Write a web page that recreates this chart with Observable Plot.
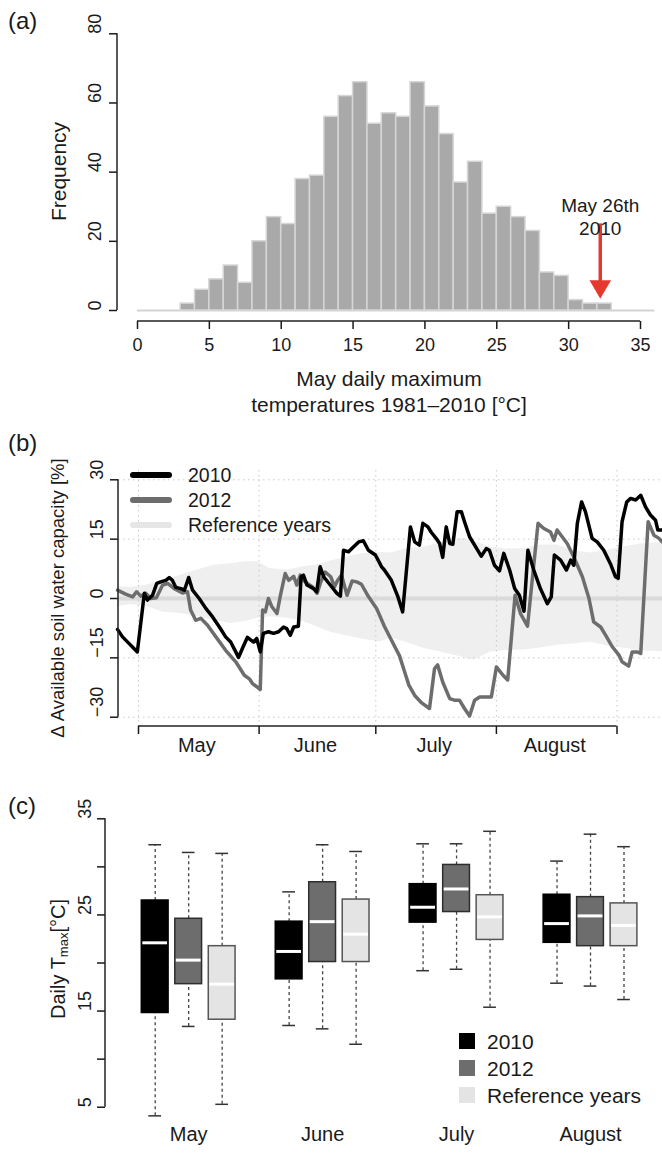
<!DOCTYPE html>
<html><head><meta charset="utf-8">
<script src="https://cdn.jsdelivr.net/npm/d3@7"></script>
<script src="https://cdn.jsdelivr.net/npm/@observablehq/plot@0.6"></script>
<style>
html,body{margin:0;padding:0;background:#fff;overflow:hidden;}
#chart{width:662px;height:1153px;position:relative;}
#chart svg{display:block;}
</style></head><body><div id="chart"></div>
<script>
// ---------------- Panel (a): histogram of May daily Tmax ----------------
const histBinStart = [0,1,2,3,4,5,6,7,8,9,10,11,12,13,14,15,16,17,18,19,20,21,22,23,24,25,26,27,28,29,30,31,32,33,34,35];
const histCounts   = [0,0,0,2,6,9,13,8,20,27,25,38,39,56,62,66,54,57,56,66,59,51,37,43,28,30,27,23,11,10,3,2,2,0,0,0];
const histXTicks = [0,5,10,15,20,25,30,35];
const histYTicks = [0,20,40,60,80];
const arrowX = [32.2];
const arrowTop = [21];
const arrowTip = [3.5];
const noteY = [27.2];
const noteText = ["May 26th\n2010"];

// ---------------- Panel (b): soil water anomaly (days since May 1) ----------------
const day2010 = [-5.4,-4.1,-2.4,-1.3,-0.3,1.5,2.3,3.6,4.7,5.7,7.0,7.9,8.7,9.6,10.9,11.8,12.9,13.9,15.6,17.3,19.0,20.8,22.4,23.7,25.0,25.7,26.9,28.0,29.6,30.4,31.3,32.1,33.4,34.7,36.0,37.3,38.1,39.0,39.9,41.1,41.8,42.4,43.3,45.0,45.8,46.7,47.6,49.7,51.0,51.9,52.7,54.0,55.3,56.6,57.8,59.1,60.9,62.5,63.2,65.0,66.7,67.9,69.9,71.0,72.2,73.1,74.4,75.2,76.5,77.4,78.2,79.1,80.0,80.8,81.9,83.0,83.8,85.1,86.4,88.1,89.4,90.2,91.5,92.8,93.9,95.4,96.7,97.9,99.1,100.1,101.6,103.3,105.1,106.1,106.9,108.5,110.0,111.1,111.9,112.8,113.9,114.9,116.6,117.9,119.6,121.3,122.6,123.3,124.3,125.5,126.5,127.8,129.1,130.3,131.6,132.9,133.5,134.6,135.5];
const val2010 = [-7.8,-9.7,-11.4,-12.5,-13.5,1.3,-0.4,0.8,3.8,4.2,4.6,5.3,4.6,2.8,2.5,2.1,5.3,2.1,0,-2.5,-4.6,-7.2,-9.7,-11,-13.5,-14.9,-12.2,-9.8,-11,-10.1,-13.5,-8.8,-8.4,-8.8,-8.4,-7.2,-7.6,-9.3,-7.2,-7.0,5.5,5.9,3.4,2.5,1.7,8,5.5,2.9,1.3,0.6,12.2,11.8,13.1,14.3,14.6,12.2,11,8,7.2,4.6,0.4,-3.4,18.1,14.3,13.5,19,18.1,16.8,15.2,13.9,10.4,18.1,13.9,13.7,21.9,21.9,19.4,15.6,13.5,10.7,12.6,12.2,8.4,7,11.4,7.2,2.5,0.8,-3.2,12.2,7.2,2.5,-1.3,0.4,11,9.7,7.2,9.7,8.4,19,24.4,21.9,15.2,14.3,12.2,8.8,5.5,5.1,19.4,24.4,25.3,24.9,26.1,23.2,21.1,19.8,17.3,17.3,18];
const day2012 = [-5.4,-3.3,-1.5,-0.5,0.6,1.9,3.2,4.6,6.2,7.5,9.2,11.3,12.6,13.4,14.7,16.0,17.7,19.9,22.4,25.0,27.2,28.5,29.3,30.4,31.3,31.9,32.6,33.4,34.3,35.6,36.4,37.7,38.6,39.9,40.7,41.6,42.4,43.4,44.7,45.9,46.8,48.0,49.4,50.4,51.2,52.2,53.6,54.9,56.1,57.3,59.1,61.2,63.2,65.0,67.1,68.4,69.5,71.0,72.7,74.8,76.1,76.9,78.2,80.0,81.2,82.5,83.8,85.1,86.4,87.7,89.4,90.7,92.0,93.7,94.9,96.8,98.2,100.0,102.7,104.2,105.9,106.8,107.6,108.9,110.2,111.9,114.1,115.8,117.0,118.8,120.1,121.8,123.5,124.3,126.0,126.9,128.2,129.1,131.0,132.5,133.8,134.6,135.5];
const val2012 = [2.1,1.1,0.4,1.7,0.6,1.3,0,0.2,3.4,3.8,2.5,1.4,1.7,-2.9,-5.5,-5,-6.7,-9.7,-13.1,-16,-19.4,-20.3,-21.5,-22.3,-23,-2.9,-3.4,0,-2.1,-3.8,0.4,6.3,4.6,5.6,3.4,5.9,4.6,3.8,3,1.3,4,6.7,5.5,3,4.6,5.9,0.8,4.4,4.2,3.6,0.5,-2.5,-7,-10.5,-14.5,-18.5,-21.9,-24.5,-26.3,-27.8,-17.7,-16.8,-21.1,-25.3,-25.7,-25.7,-27.8,-29.7,-25.7,-24.9,-24.9,-24.9,-17.3,-19.4,-20.6,0.8,-3.8,-7,19,17.7,16.8,14.7,17.3,15.6,13.9,10.5,5.5,0,-5.9,-7.2,-9.3,-12.2,-14.3,-16,-17.1,-13.5,-13.5,-13.9,19.4,16,15.2,14.3,14];
const refDay  = [-5.4,-2.1,2.3,6.4,10.8,15.2,19.3,23.7,27.5,30.6,33.9,38.3,42.4,46.0,49.4,53.7,57.8,62.2,64.8,68.6,73.3,77.6,82.8,86.1,90.5,94.3,99.0,103.3,107.7,111.8,116.2,120.6,124.7,129.1,135.5];
const refLow  = [-2.0,-1.5,-2.1,-3.5,-3.8,-4.6,-5.5,-6.3,-5.8,-5.0,-4.6,-5.0,-5.8,-7.2,-8.5,-9.5,-10.3,-11.0,-10.0,-11.0,-12.6,-13.5,-14.7,-15.6,-13.5,-13.2,-13.0,-12.5,-11.8,-11.5,-11.0,-12.0,-12.6,-13.2,-13.5];
const refHigh = [3.0,2.8,3.4,4.6,5.9,7.2,8.4,8.8,9.3,9.3,7.5,7.2,8.0,8.5,9.5,10.5,11.4,11.6,11.5,12.5,13.0,14.0,15.2,14.5,13.0,12.5,12.6,13.5,13.5,12.0,11.5,12.2,13.0,13.8,14.3];
const monthStart = [0,31,61,92,123];
const monthName = ["May","June","July","August"];
const monthMid = [15,45.5,76,107];
const swTicks = [-30,-15,0,15,30];
const seriesNames = ["2010","2012","Reference years"];

// ---------------- Panel (c): boxplots of daily Tmax ----------------
const boxMonth  = ["May","May","May","June","June","June","July","July","July","August","August","August"];
const boxSeries = ["2010","2012","Reference years","2010","2012","Reference years","2010","2012","Reference years","2010","2012","Reference years"];
const boxMin    = [4.1,13.4,5.3, 13.5,13.15,11.55, 19.2,19.35,15.4, 17.9,17.6,16.2];
const boxQ1     = [14.8,17.8,14.1, 18.3,20.1,20.1, 24.2,25.3,22.4, 22.1,21.75,21.75];
const boxMedian = [22.1,20.3,17.8, 21.2,24.3,23.0, 25.8,27.7,24.8, 24.1,24.9,23.9];
const boxQ3     = [26.5,24.6,21.75, 24.3,28.4,26.6, 28.2,30.2,27.05, 27.1,26.85,26.2];
const boxMax    = [32.3,31.5,31.4, 27.4,32.3,31.6, 32.4,32.4,33.7, 30.6,33.4,32.1];
const tTicks = [5,10,15,20,25,30,35];
const tLabels = [5,15,25,35];

// ---------------- styling ----------------
const fontFam = '"Liberation Sans", Arial, Helvetica, sans-serif';
const ink = "#1a1a1a";
const red = "#e5392d";
const colSeries = {"2010": "#000000", "2012": "#6d6d6d", "Reference years": "#e4e4e4"};
const boxStroke = {"2010": "#000000", "2012": "#2e2e2e", "Reference years": "#555555"};
const fmt = d3.format("d");
const chart = document.getElementById("chart");

function svgText(svg, x, y, str, size, anchor = "middle", rotate = 0) {
  return d3.select(svg).append("text")
    .attr("transform", `translate(${x},${y}) rotate(${rotate})`)
    .attr("text-anchor", anchor).attr("dominant-baseline", "central")
    .attr("font-size", size).attr("fill", ink).text(str);
}
function svgLine(svg, x1, y1, x2, y2, stroke = "#222", w = 1.5) {
  d3.select(svg).append("line").attr("x1", x1).attr("y1", y1).attr("x2", x2).attr("y2", y2)
    .attr("stroke", stroke).attr("stroke-width", w);
}
const style = {fontFamily: fontFam, fontSize: "18px", color: ink, background: "#fff"};

// ===== Panel (a) =====
const hist = histBinStart.map((b, i) => ({x1: b, x2: b + 1, n: histCounts[i]})).filter(d => d.n > 0);
const note = arrowX.map((x, i) => ({x, top: arrowTop[i], tip: arrowTip[i], ly: noteY[i], label: noteText[i]}));
const hA = 430, mbA = 109;
const plotA = Plot.plot({
  width: 662, height: hA, marginLeft: 117, marginRight: 0, marginTop: 20, marginBottom: mbA,
  style,
  x: {domain: [0, 35], range: [137, 640]},
  y: {domain: [0, 80], range: [310, 33.3]},
  marks: [
    Plot.ruleY([0], {x1: histBinStart[0], x2: histBinStart[histBinStart.length - 1] + 1, stroke: "#d3d3d3", strokeWidth: 2}),
    Plot.rect(hist, {x1: "x1", x2: "x2", y1: 0, y2: "n", fill: "#a9a9a9", stroke: "#d6d6d6", strokeWidth: 1.5}),
    Plot.ruleX(note, {x: "x", y1: "top", y2: "tip", stroke: red, strokeWidth: 3.5, dy: -14}),
    Plot.dot(note, {x: "x", y: "tip", symbol: "triangle", rotate: 180, r: 8, fill: red, stroke: "none", dy: -12}),
    Plot.text(note, {x: "x", y: "ly", text: "label", fontSize: 19, lineHeight: 1.17}),
    Plot.axisX(histXTicks, {tickSize: 8, tickPadding: 9, fontSize: 18, strokeWidth: 1.5, label: null}),
    Plot.axisY(histYTicks, {tickSize: 8, tickFormat: () => "", strokeWidth: 1.5, label: null}),
    Plot.text(histYTicks, {y: d => d, text: d => fmt(d), frameAnchor: "left", dx: -22, rotate: -90, fontSize: 18})
  ]
});
{
  const xs = plotA.scale("x"), ys = plotA.scale("y");
  const axY = hA - mbA;
  svgLine(plotA, xs.apply(histXTicks[0]), axY, xs.apply(histXTicks[histXTicks.length - 1]), axY);
  svgLine(plotA, 117, ys.apply(histYTicks[0]), 117, ys.apply(histYTicks[histYTicks.length - 1]));
  svgText(plotA, 8, 20, "(a)", 24, "start");
  svgText(plotA, 58, 171.5, "Frequency", 21, "middle", -90);
  svgText(plotA, 389, 378, "May daily maximum", 21);
  svgText(plotA, 389, 404, "temperatures 1981\u20132010 [\u00B0C]", 21);
}
chart.appendChild(plotA);

// ===== Panel (b) =====
const s2010 = day2010.map((d, i) => ({day: d, v: val2010[i]}));
const s2012 = day2012.map((d, i) => ({day: d, v: val2012[i]}));
const band = refDay.map((d, i) => ({day: d, lo: refLow[i], hi: refHigh[i]}));
const hB = 340, mbB = 44;
const grid = {stroke: "#c9c9c9", strokeDasharray: "1.5,3.5", strokeWidth: 1};
const plotB = Plot.plot({
  width: 662, height: hB, marginLeft: 118, marginRight: 0, marginTop: 40, marginBottom: mbB,
  style,
  x: {domain: [0, 123], range: [138, 616.5]},
  y: {domain: [-30, 30], range: [286.7, 49.3]},
  marks: [
    Plot.areaY(band, {x: "day", y1: "lo", y2: "hi", fill: "#efefef"}),
    Plot.ruleY(swTicks, grid),
    Plot.ruleX(monthStart, grid),
    Plot.ruleY([0], {stroke: "#dadada", strokeWidth: 4}),
    Plot.line(s2012, {x: "day", y: "v", stroke: colSeries["2012"], strokeWidth: 3.5, strokeLinejoin: "round"}),
    Plot.line(s2010, {x: "day", y: "v", stroke: colSeries["2010"], strokeWidth: 3.5, strokeLinejoin: "round"}),
    Plot.axisY(swTicks, {tickSize: 8, tickFormat: () => "", strokeWidth: 1.5, label: null}),
    Plot.text(swTicks, {y: d => d, text: d => fmt(d), frameAnchor: "left", dx: -21, rotate: -90, fontSize: 18}),
    Plot.axisX(monthStart, {tickSize: 8, tickFormat: () => "", strokeWidth: 1.5, label: null}),
    Plot.text(monthMid, {x: d => d, text: (d, i) => monthName[i], frameAnchor: "bottom", dy: 25, fontSize: 20})
  ]
});
{
  const xs = plotB.scale("x"), ys = plotB.scale("y");
  const axY = hB - mbB;
  svgLine(plotB, xs.apply(monthStart[0]), axY, xs.apply(monthStart[monthStart.length - 1]), axY);
  svgLine(plotB, 118, ys.apply(swTicks[0]), 118, ys.apply(swTicks[swTicks.length - 1]));
  svgText(plotB, 8, 12, "(b)", 24, "start");
  svgText(plotB, 57, 168, "\u0394 Available soil water capacity [%]", 18.5, "middle", -90);
  const legCol = [colSeries["2010"], colSeries["2012"], "#e6e6e6"];
  seriesNames.forEach((s, i) => {
    const y = 45 + i * 25;
    d3.select(plotB).append("line").attr("x1", 133).attr("x2", 169).attr("y1", y).attr("y2", y)
      .attr("stroke", legCol[i]).attr("stroke-width", 6).attr("stroke-linecap", "round");
    svgText(plotB, 188, y, s, 19.5, "start");
  });
}
chart.appendChild(plotB);

// ===== Panel (c) =====
const boxes = boxMonth.map((m, i) => {
  const pos = monthName.indexOf(m) * 4 + seriesNames.indexOf(boxSeries[i]) + 1;
  return {pos, s: boxSeries[i], min: boxMin[i], q1: boxQ1[i], med: boxMedian[i], q3: boxQ3[i], max: boxMax[i]};
});
const hw = 0.4, cw = 0.19;
const hC = 383, mbC = 13;
const plotC = Plot.plot({
  width: 662, height: hC, marginLeft: 105, marginRight: 22, marginTop: 20, marginBottom: mbC,
  style,
  x: {domain: [1, 15], range: [154.7, 623.5], axis: null},
  y: {domain: [5, 35], range: [336.7, 48.3]},
  marks: [
    Plot.ruleX(boxes, {x: "pos", y1: "q3", y2: "max", stroke: "#444", strokeWidth: 1.3, strokeDasharray: "3,3"}),
    Plot.ruleX(boxes, {x: "pos", y1: "min", y2: "q1", stroke: "#444", strokeWidth: 1.3, strokeDasharray: "3,3"}),
    Plot.ruleY(boxes, {x1: d => d.pos - cw, x2: d => d.pos + cw, y: "max", stroke: "#333", strokeWidth: 1.5}),
    Plot.ruleY(boxes, {x1: d => d.pos - cw, x2: d => d.pos + cw, y: "min", stroke: "#333", strokeWidth: 1.5}),
    Plot.rect(boxes, {x1: d => d.pos - hw, x2: d => d.pos + hw, y1: "q1", y2: "q3", fill: d => colSeries[d.s], stroke: d => boxStroke[d.s], strokeWidth: 1.5}),
    Plot.ruleY(boxes, {x1: d => d.pos - hw + 0.03, x2: d => d.pos + hw - 0.03, y: "med", stroke: "#fff", strokeWidth: 3}),
    Plot.axisY(tTicks, {tickSize: 8, tickFormat: () => "", strokeWidth: 1.5, label: null}),
    Plot.text(tLabels, {y: d => d, text: d => fmt(d), frameAnchor: "left", dx: -20, rotate: -90, fontSize: 18}),
    Plot.text(monthName, {x: (d, i) => i * 4 + 2, text: d => d, frameAnchor: "bottom", fontSize: 20})
  ]
});
{
  const ys = plotC.scale("y");
  svgLine(plotC, 105, ys.apply(tTicks[0]), 105, ys.apply(tTicks[tTicks.length - 1]));
  svgText(plotC, 8, 35, "(c)", 24, "start");
  const t = d3.select(plotC).append("text")
    .attr("transform", "translate(58,189) rotate(-90)")
    .attr("text-anchor", "middle").attr("dominant-baseline", "central")
    .attr("font-size", 20).attr("fill", ink);
  t.append("tspan").text("Daily T");
  t.append("tspan").attr("font-size", 13).attr("dy", 5).text("max");
  t.append("tspan").attr("dy", -5).text("[\u00B0C]");
  seriesNames.forEach((s, i) => {
    const y = 271 + i * 27;
    d3.select(plotC).append("rect").attr("x", 459).attr("y", y - 8).attr("width", 16).attr("height", 16)
      .attr("fill", colSeries[s]);
    svgText(plotC, 487, y, s, 21, "start");
  });
}
chart.appendChild(plotC);
</script></body></html>
